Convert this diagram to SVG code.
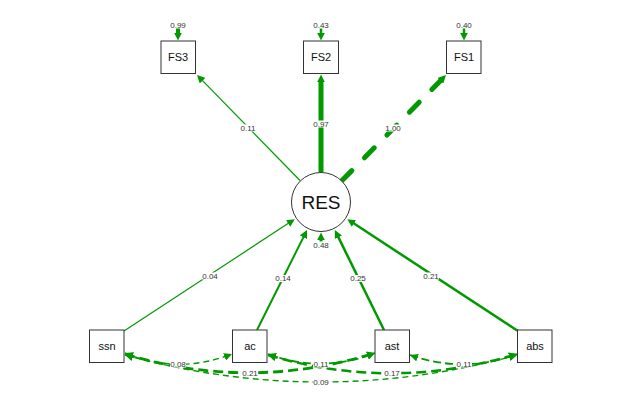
<svg xmlns="http://www.w3.org/2000/svg" width="642" height="404" viewBox="0 0 642 404">
<style>
.box{fill:#fff;stroke:#333;stroke-width:1}
.nt{font-family:"Liberation Sans",Arial,sans-serif;font-size:11px;fill:#111;text-anchor:middle}
.big{font-size:19px}
.e{fill:none;stroke:#009900}
.el{font-family:"Liberation Sans",Arial,sans-serif;font-size:8px;fill:#333;text-anchor:middle}
.bg{fill:#fff}
</style>
<defs>
<marker id="a" viewBox="0 0 10 10" refX="0.5" refY="5" markerWidth="8" markerHeight="8" markerUnits="userSpaceOnUse" orient="auto">
<path d="M0,0 L10,5 L0,10 z" fill="#009900"/>
</marker>
<marker id="t" viewBox="0 0 10 10" refX="10" refY="5" markerWidth="8" markerHeight="8" markerUnits="userSpaceOnUse" orient="auto-start-reverse">
<path d="M0,0 L10,5 L0,10 z" fill="#009900"/>
</marker>
</defs>
<rect width="642" height="404" fill="#fff"/>
<g id="connectors">
<!-- residuals -->
<path class="e" d="M178,28 V33" stroke-width="4" marker-end="url(#a)"/>
<path class="e" d="M321,28 V33" stroke-width="2.5" marker-end="url(#a)"/>
<path class="e" d="M464,28 V33" stroke-width="2.5" marker-end="url(#a)"/>
<path class="e" d="M321,242 V240" stroke-width="3" marker-end="url(#a)"/>
<!-- loadings -->
<path class="e" d="M300,180.5 L202.3,80.4" stroke-width="1.2" marker-end="url(#a)"/>
<path class="e" d="M321,172 V82" stroke-width="5" marker-end="url(#a)"/>
<path class="e" d="M342,180.6 L440.7,80.4" stroke-width="5" stroke-dasharray="14 18" stroke-linecap="round" marker-end="url(#a)"/>
<!-- regressions -->
<path class="e" d="M124,331 L288.4,223.3" stroke-width="1.2" marker-end="url(#a)"/>
<path class="e" d="M257,330 L303.6,236.9" stroke-width="2" marker-end="url(#a)"/>
<path class="e" d="M384,330 L338.2,236.9" stroke-width="2.5" marker-end="url(#a)"/>
<path class="e" d="M518,331 L353.6,223.3" stroke-width="2.5" marker-end="url(#a)"/>
<!-- covariances -->
<path class="e" d="M125,353 Q178,375 232,354" stroke-width="1.4" stroke-dasharray="6 4" marker-start="url(#t)" marker-end="url(#t)"/>
<path class="e" d="M125,354 Q250,392 375,353" stroke-width="2.8" stroke-dasharray="10 5" marker-start="url(#t)" marker-end="url(#t)"/>
<path class="e" d="M125,355 Q321,409 517,355" stroke-width="1.4" stroke-dasharray="6 4" marker-start="url(#t)" marker-end="url(#t)"/>
<path class="e" d="M268,354 Q321,374 375,353" stroke-width="1.8" stroke-dasharray="8 4" marker-start="url(#t)" marker-end="url(#t)"/>
<path class="e" d="M268,355 Q392,392 517,354" stroke-width="2.5" stroke-dasharray="10 5" marker-start="url(#t)" marker-end="url(#t)"/>
<path class="e" d="M410,355 Q464,374 517,354" stroke-width="1.8" stroke-dasharray="8 4" marker-start="url(#t)" marker-end="url(#t)"/>
<!-- labels -->
<g>
<rect class="bg" x="170" y="21.5" width="16" height="7"/><text class="el" x="178" y="27.8">0.99</text>
<rect class="bg" x="313" y="21.5" width="16" height="7"/><text class="el" x="321" y="27.8">0.43</text>
<rect class="bg" x="456" y="21.5" width="16" height="7"/><text class="el" x="464" y="27.8">0.40</text>
<rect class="bg" x="240" y="124.5" width="16" height="7"/><text class="el" x="248" y="130.8">0.11</text>
<rect class="bg" x="313" y="120.5" width="16" height="7"/><text class="el" x="321" y="126.8">0.97</text>
<rect class="bg" x="385" y="124.5" width="16" height="7"/><text class="el" x="393" y="130.8">1.00</text>
<rect class="bg" x="313" y="241.5" width="16" height="7"/><text class="el" x="321" y="247.8">0.48</text>
<rect class="bg" x="202" y="272.5" width="16" height="7"/><text class="el" x="210" y="278.8">0.04</text>
<rect class="bg" x="275" y="275" width="16" height="7"/><text class="el" x="283" y="281.3">0.14</text>
<rect class="bg" x="350" y="275" width="16" height="7"/><text class="el" x="358" y="281.3">0.25</text>
<rect class="bg" x="423" y="272.5" width="16" height="7"/><text class="el" x="431" y="278.8">0.21</text>
<rect class="bg" x="170" y="360.5" width="16" height="7"/><text class="el" x="178" y="366.8">0.08</text>
<rect class="bg" x="242" y="369.5" width="16" height="7"/><text class="el" x="250" y="375.8">0.21</text>
<rect class="bg" x="313" y="378.5" width="16" height="7"/><text class="el" x="321" y="384.8">0.09</text>
<rect class="bg" x="313" y="360.5" width="16" height="7"/><text class="el" x="321" y="366.8">0.11</text>
<rect class="bg" x="384" y="369.5" width="16" height="7"/><text class="el" x="392" y="375.8">0.17</text>
<rect class="bg" x="456" y="360.5" width="16" height="7"/><text class="el" x="464" y="366.8">0.11</text>
</g>
</g>
<g id="FS3"><rect class="box" x="161" y="41" width="34.5" height="32.5"/><text class="nt" x="178" y="61">FS3</text></g>
<g id="FS2"><rect class="box" x="303.5" y="41" width="35" height="32.5"/><text class="nt" x="321" y="61">FS2</text></g>
<g id="FS1"><rect class="box" x="446.5" y="41" width="34.5" height="32.5"/><text class="nt" x="464" y="61">FS1</text></g>
<g id="RES"><circle cx="321" cy="202" r="29.5" fill="#fff" stroke="#333" stroke-width="1"/><text class="nt big" x="321" y="209">RES</text></g>
<g id="ssn"><rect class="box" x="89.5" y="330" width="34.5" height="32.5"/><text class="nt" x="107" y="350">ssn</text></g>
<g id="ac"><rect class="box" x="232.5" y="330" width="34.5" height="32.5"/><text class="nt" x="250" y="350">ac</text></g>
<g id="ast"><rect class="box" x="375" y="330" width="34.5" height="32.5"/><text class="nt" x="392" y="350">ast</text></g>
<g id="abs"><rect class="box" x="517.5" y="330" width="34.5" height="32.5"/><text class="nt" x="535" y="350">abs</text></g>
</svg>
